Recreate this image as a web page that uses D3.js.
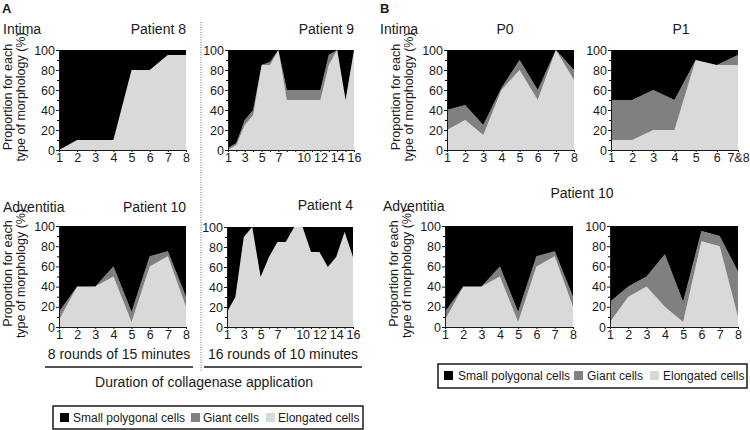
<!DOCTYPE html>
<html>
<head>
<meta charset="utf-8">
<script src="https://cdn.jsdelivr.net/npm/d3@7"></script>
<style>
  body { margin: 0; background: #fff; }
  text { font-family: 'Liberation Sans', Arial, sans-serif; fill: #1a1a1a; }
</style>
</head>
<body>
<svg id="chart" width="750" height="430"></svg>
<script>
// x categories (rounds of collagenase)
const rounds8 = [1, 2, 3, 4, 5, 6, 7, 8];
const rounds16 = [1, 2, 3, 4, 5, 6, 7, 8, 9, 10, 11, 12, 13, 14, 15, 16];
const roundsP1 = [1, 2, 3, 4, 5, 6, 7];
const labels8 = ['1', '2', '3', '4', '5', '6', '7', '8'];
const labels16 = ['1', '', '3', '', '5', '', '7', '', '', '10', '', '12', '', '14', '', '16'];
const labelsP1 = ['1', '2', '3', '4', '5', '6', '7&8'];
const yTicks = [0, 20, 40, 60, 80, 100];
const yMinor = [10, 30, 50, 70, 90];

// % elongated cells and % giant cells (small polygonal = the rest)
const p8Elongated = [0, 10, 10, 10, 80, 80, 95, 95];
const p8Giant = [0, 0, 0, 0, 0, 0, 0, 0];
const p9Elongated = [0, 5, 25, 35, 85, 85, 100, 50, 50, 50, 50, 50, 85, 100, 50, 100];
const p9Giant = [2, 2, 5, 5, 0, 3, 0, 10, 10, 10, 10, 10, 10, 0, 0, 0];
const p10Elongated = [7, 40, 40, 50, 5, 60, 70, 20];
const p10Giant = [8, 0, 0, 10, 10, 10, 5, 10];
const p4Elongated = [15, 30, 90, 100, 50, 70, 85, 85, 100, 100, 75, 75, 60, 70, 95, 70];
const p4Giant = [0, 0, 0, 0, 0, 0, 0, 0, 0, 0, 0, 0, 0, 0, 0, 0];
const p0Elongated = [20, 30, 15, 60, 80, 50, 100, 70];
const p0Giant = [20, 15, 10, 2, 10, 10, 0, 10];
const p1Elongated = [10, 10, 20, 20, 90, 85, 85];
const p1Giant = [40, 40, 40, 30, 0, 0, 10];
const p10bElongated = [5, 30, 40, 20, 5, 85, 80, 10];
const p10bGiant = [20, 10, 10, 52, 20, 10, 10, 45];

const keys = ['elongated', 'giant', 'small'];
const colors = { small: '#000000', giant: '#808080', elongated: '#d9d9d9' };
const legendNames = { small: 'Small polygonal cells', giant: 'Giant cells', elongated: 'Elongated cells' };

const svg = d3.select('#chart');

const panels = [
  { rounds: rounds8, labels: labels8, elongated: p8Elongated, giant: p8Giant, left: 59, right: 186, top: 50, bottom: 150, ylab: true },
  { rounds: rounds16, labels: labels16, elongated: p9Elongated, giant: p9Giant, left: 228, right: 354, top: 50, bottom: 150 },
  { rounds: rounds8, labels: labels8, elongated: p10Elongated, giant: p10Giant, left: 59, right: 186, top: 226, bottom: 327, ylab: true },
  { rounds: rounds16, labels: labels16, elongated: p4Elongated, giant: p4Giant, left: 227, right: 353, top: 227, bottom: 327 },
  { rounds: rounds8, labels: labels8, elongated: p0Elongated, giant: p0Giant, left: 447, right: 574, top: 50, bottom: 150, ylab: true },
  { rounds: roundsP1, labels: labelsP1, elongated: p1Elongated, giant: p1Giant, left: 611, right: 738, top: 50, bottom: 150 },
  { rounds: rounds8, labels: labels8, elongated: p10Elongated, giant: p10Giant, left: 445, right: 573, top: 226, bottom: 327, ylab: true },
  { rounds: rounds8, labels: labels8, elongated: p10bElongated, giant: p10bGiant, left: 610, right: 738, top: 226, bottom: 327 }
];

function drawPanel(p) {
  const x = d3.scaleLinear().domain([p.rounds[0], p.rounds[p.rounds.length - 1]]).range([p.left, p.right]);
  const y = d3.scaleLinear().domain([0, 100]).range([p.bottom, p.top]);

  const rows = p.rounds.map((r, i) => ({
    round: r,
    elongated: p.elongated[i],
    giant: p.giant[i],
    small: 100 - p.elongated[i] - p.giant[i]
  }));
  const series = d3.stack().keys(keys)(rows);

  const area = d3.area()
    .x(d => x(d.data.round))
    .y0(d => y(d[0]))
    .y1(d => y(d[1]));

  const g = svg.append('g');
  g.selectAll('.layer')
    .data(series)
    .enter()
    .append('path')
    .attr('class', 'layer')
    .attr('fill', d => colors[d.key])
    .attr('d', area);

  //minor y ticks
  g.append('g')
    .attr('transform', 'translate(' + p.left + ',0)')
    .call(d3.axisLeft(y).tickValues(yMinor).tickSize(2).tickSizeOuter(0).tickFormat(''))
    .call(a => a.select('.domain').remove());

  const yAxis = g.append('g')
    .attr('transform', 'translate(' + p.left + ',0)')
    .call(d3.axisLeft(y).tickValues(yTicks).tickSize(3).tickSizeOuter(0).tickPadding(1));

  const xAxis = g.append('g')
    .attr('transform', 'translate(0,' + p.bottom + ')')
    .call(d3.axisBottom(x).tickValues(p.rounds).tickSize(2).tickSizeOuter(0).tickPadding(1)
      .tickFormat((d, i) => p.labels[i]));

  [xAxis, yAxis].forEach(a => {
    a.selectAll('path, line').attr('stroke', '#1a1a1a');
    a.selectAll('text').style('font-size', '12.5px').attr('fill', '#1a1a1a');
  });

  if (p.ylab) {
    const cy = (p.top + p.bottom) / 2 - 3;
    [['Proportion for each', p.left - 51], ['type of morphology (%)', p.left - 38]].forEach(([t, cx]) => {
      svg.append('text')
        .attr('transform', 'translate(' + cx + ',' + cy + ') rotate(-90)')
        .attr('text-anchor', 'middle')
        .attr('dy', '0.35em')
        .style('font-size', '12.5px')
        .text(t);
    });
  }
}

panels.forEach(drawPanel);

//titles
const titles = [
  ['A', 2, 13, 'start', 13, 'bold'],
  ['B', 380, 13, 'start', 13, 'bold'],
  ['Intima', 3, 34, 'start', 14],
  ['Patient 8', 186, 34, 'end', 14],
  ['Patient 9', 354, 34, 'end', 14],
  ['Adventitia', 3, 212, 'start', 14],
  ['Patient 10', 186, 212, 'end', 14],
  ['Patient 4', 353, 210, 'end', 14],
  ['Intima', 380, 34, 'start', 14],
  ['P0', 505, 34, 'middle', 14],
  ['P1', 681, 34, 'middle', 14],
  ['Adventitia', 383, 211, 'start', 14],
  ['Patient 10', 582, 198, 'middle', 14],
  ['8 rounds of 15 minutes', 119, 359, 'middle', 14],
  ['16 rounds of 10 minutes', 283, 359, 'middle', 14],
  ['Duration of collagenase application', 204, 387, 'middle', 14]
];
titles.forEach(([t, x, y, anchor, size, weight]) => {
  svg.append('text')
    .attr('x', x).attr('y', y)
    .attr('text-anchor', anchor)
    .style('font-size', size + 'px')
    .style('font-weight', weight || 'normal')
    .text(t);
});

//underlines and divider
svg.append('line').attr('x1', 45).attr('x2', 193).attr('y1', 367).attr('y2', 367).attr('stroke', '#1a1a1a').attr('stroke-width', 1.3);
svg.append('line').attr('x1', 204).attr('x2', 362).attr('y1', 367).attr('y2', 367).attr('stroke', '#1a1a1a').attr('stroke-width', 1.3);
svg.append('line').attr('x1', 201).attr('x2', 201).attr('y1', 22).attr('y2', 372)
  .attr('stroke', '#666').attr('stroke-width', 1).attr('stroke-dasharray', '1,1.5');

//legends
function drawLegend(box, items) {
  svg.append('rect')
    .attr('x', box.x).attr('y', box.y).attr('width', box.w).attr('height', box.h)
    .attr('fill', '#fff').attr('stroke', '#1a1a1a').attr('stroke-width', 1.5);
  items.forEach(it => {
    svg.append('rect')
      .attr('x', it.sx).attr('y', box.y + 7).attr('width', 9).attr('height', 9)
      .attr('fill', colors[it.key]);
    svg.append('text')
      .attr('x', it.tx).attr('y', box.y + 16)
      .style('font-size', '12px')
      .text(legendNames[it.key]);
  });
}

drawLegend({ x: 53, y: 406, w: 310, h: 23 }, [
  { key: 'small', sx: 60, tx: 73 },
  { key: 'giant', sx: 191, tx: 203 },
  { key: 'elongated', sx: 266, tx: 278 }
]);
drawLegend({ x: 438, y: 364, w: 309, h: 24 }, [
  { key: 'small', sx: 444, tx: 458 },
  { key: 'giant', sx: 574, tx: 587 },
  { key: 'elongated', sx: 650, tx: 663 }
]);
</script>
</body>
</html>
